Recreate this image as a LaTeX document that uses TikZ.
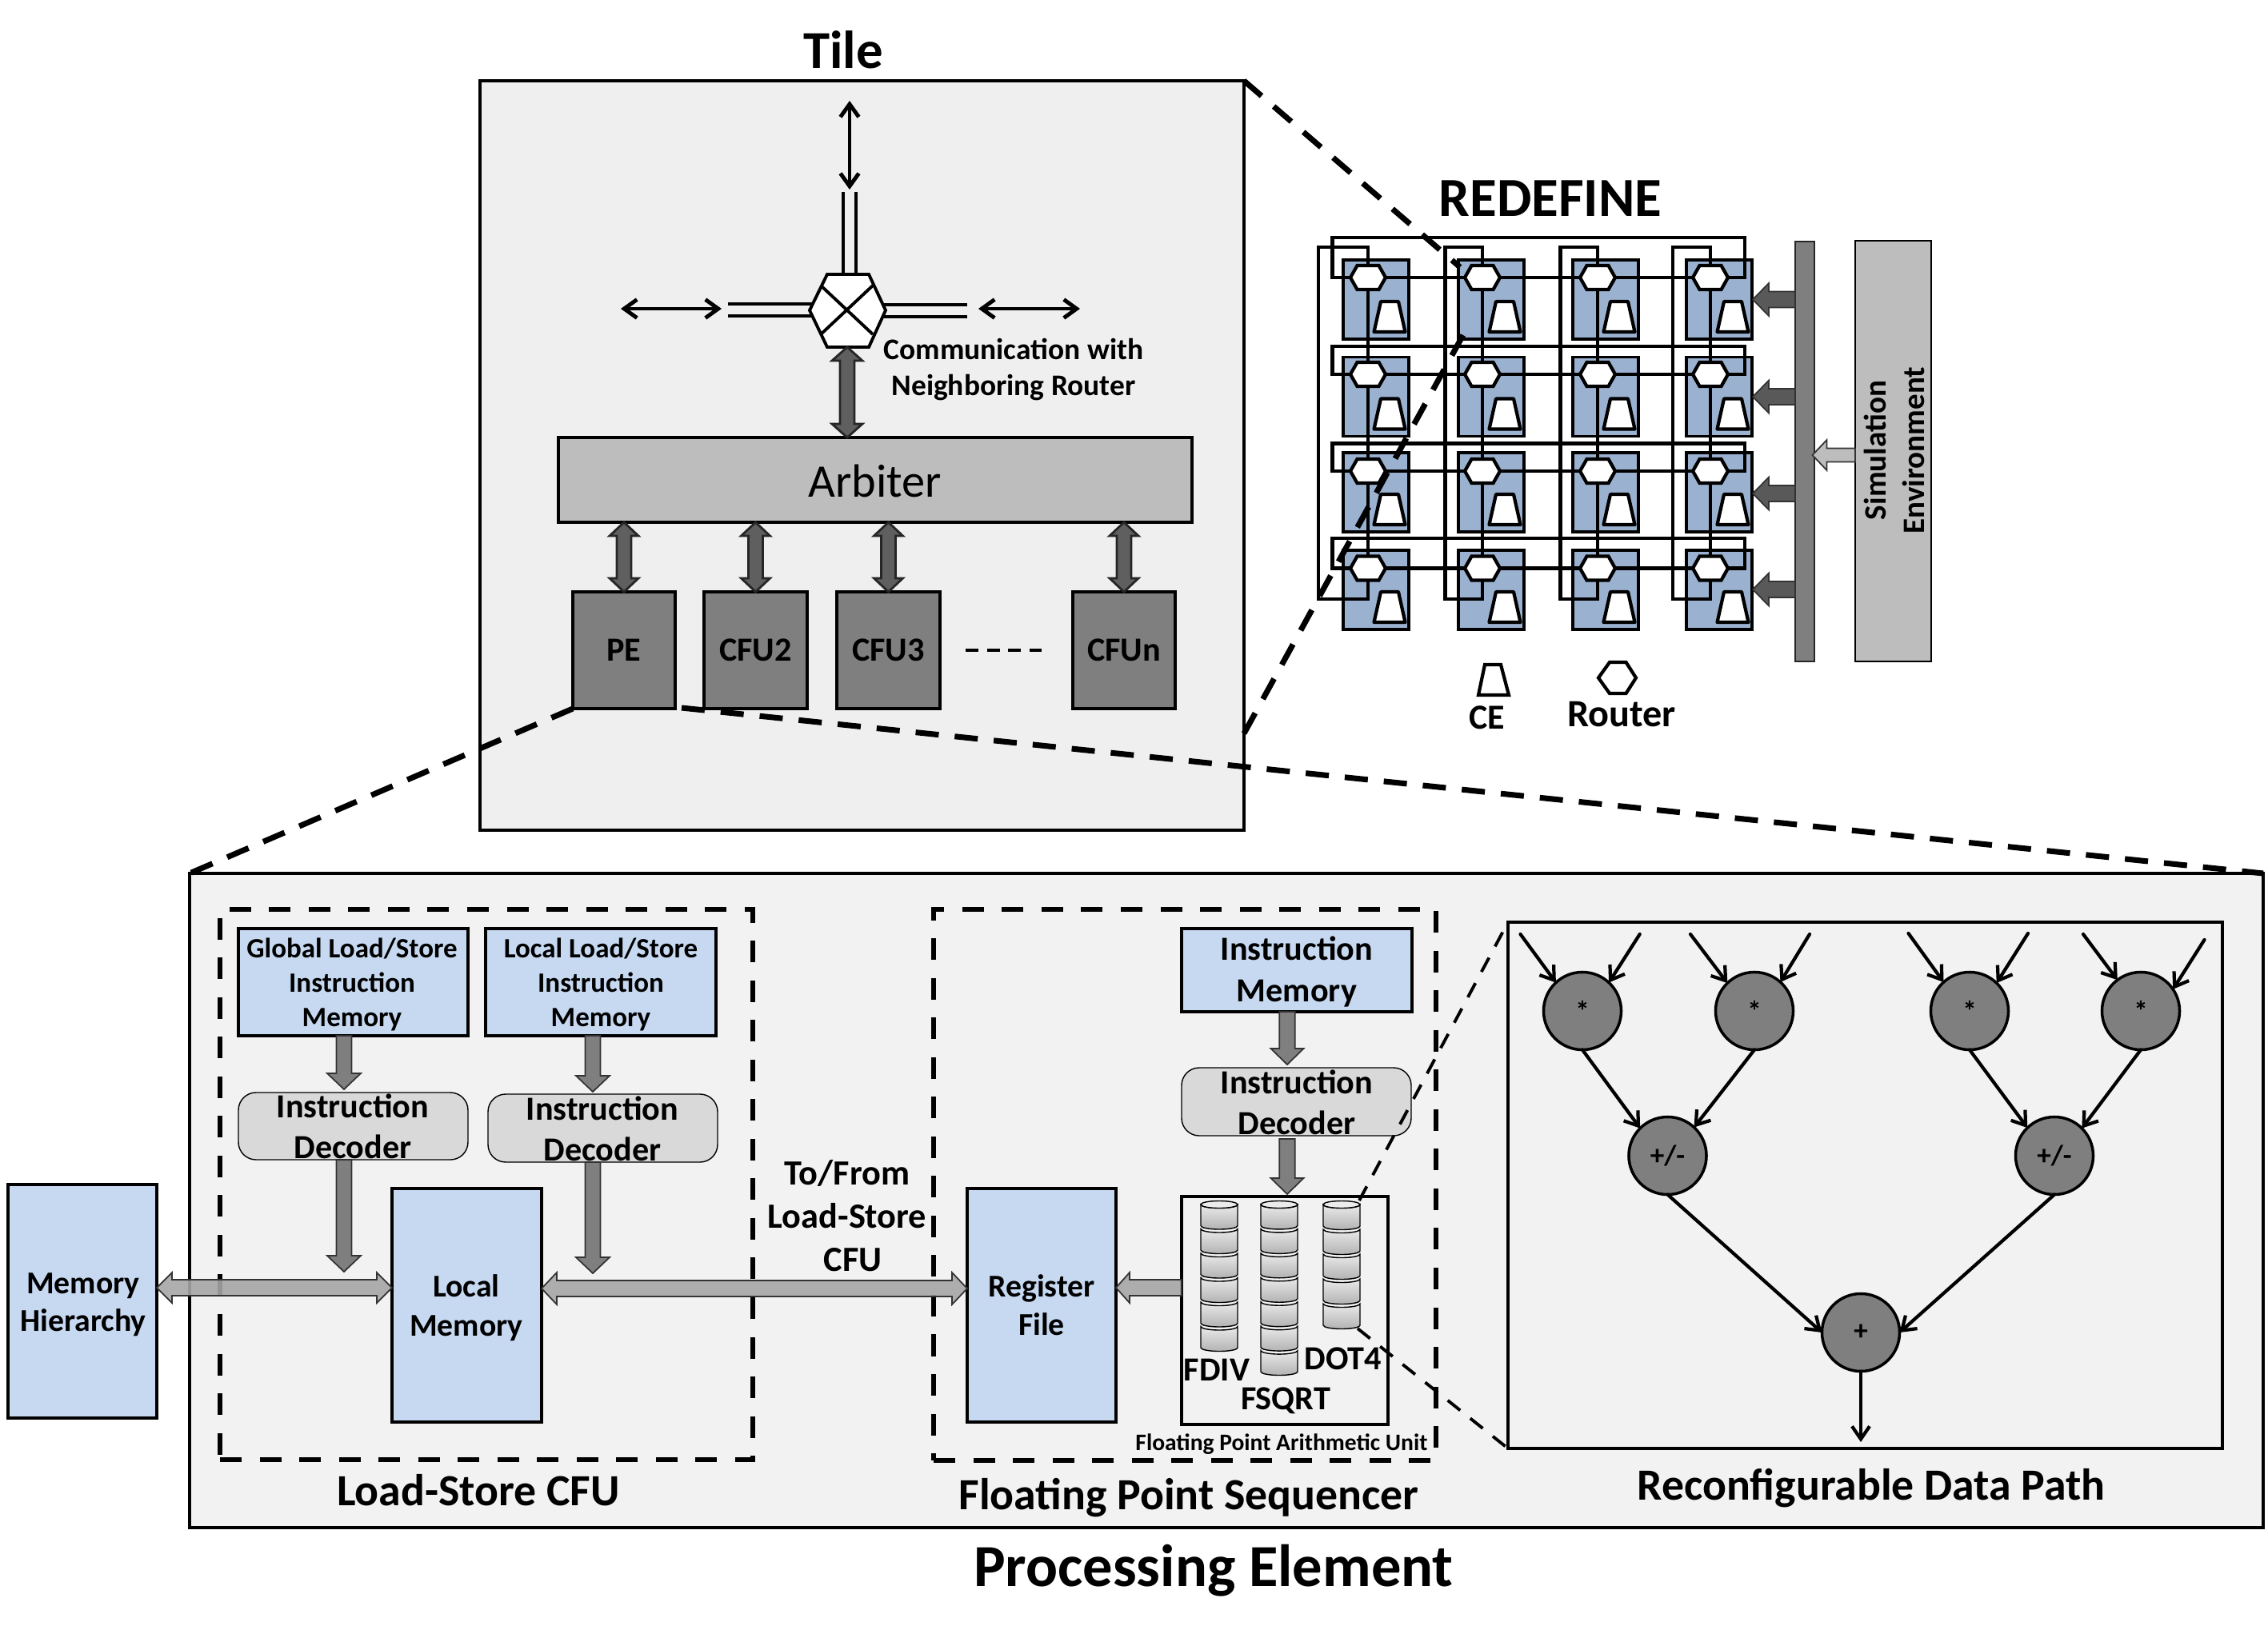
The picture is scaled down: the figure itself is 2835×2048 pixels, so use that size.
\documentclass[tikz,border=0pt]{standalone}
\usepackage{fontspec}
\setmainfont{Carlito}
\usetikzlibrary{calc,fit,arrows.meta}

\definecolor{tilebg}{HTML}{EFEFEF}
\definecolor{pebg}{HTML}{F2F2F2}
\definecolor{memblue}{HTML}{C6D9F1}
\definecolor{gridblue}{HTML}{9BB1D0}
\definecolor{arbgray}{HTML}{BDBDBD}
\definecolor{unitgray}{HTML}{7F7F7F}
\definecolor{decgray}{HTML}{D9D9D9}
\definecolor{busgray}{HTML}{A6A6A6}
\definecolor{linkgray}{HTML}{5F5F5F}

\tikzset{
  box/.style={inner sep=0pt,outer sep=0pt},
  frame/.style={box,draw=black,line width=1pt},
  bluebox/.style={frame,fill=memblue},
  decbox/.style={box,draw=black,line width=.4pt,fill=decgray,rounded corners=.22cm},
  unitbox/.style={frame,fill=unitgray},
  txt/.style={inner sep=0pt,outer sep=0pt,align=center,text=black},
  opnode/.style={circle,draw=black,line width=1pt,fill=unitgray,minimum size=.97cm,inner sep=0pt,outer sep=0pt},
  zoomline/.style={line width=2pt,dash pattern=on .29cm off .2cm},
  zoomthin/.style={line width=1.1pt,dash pattern=on .2cm off .16cm},
  regionbox/.style={line width=1.95pt,dash pattern=on .27cm off .225cm},
  wire/.style={line width=1.3pt},
  barb/.style={line width=1.2pt,line cap=round,-{Straight Barb[length=.16cm,width=.22cm,line width=1.2pt]}},
  barbs/.style={line width=1.4pt,line cap=round,{Straight Barb[length=.16cm,width=.23cm,line width=1.4pt]}-{Straight Barb[length=.16cm,width=.23cm,line width=1.4pt]}},
  linkarrow/.style={draw=black!85,line width=.8pt,fill=linkgray},
  feedarrow/.style={draw=black!80,line width=.5pt,fill=unitgray},
  busarrow/.style={draw=black!80,line width=.5pt,fill=busgray,fill opacity=.9},
}

% Block arrow with one head: style, tail, tip, half shaft, half head, head length
\newcommand{\onewayarrow}[6]{%
  \coordinate (bh) at ($(#3)!#6!(#2)$);
  \draw[#1] ($(#2)!#4!90:(#3)$) -- ($(bh)!#4!90:(#3)$) -- ($(bh)!#5!90:(#3)$) -- (#3)
    -- ($(bh)!#5!-90:(#3)$) -- ($(bh)!#4!-90:(#3)$) -- ($(#2)!#4!-90:(#3)$) -- cycle;}
% Block arrow with a head at both ends
\newcommand{\twowayarrow}[6]{%
  \coordinate (bh) at ($(#3)!#6!(#2)$);
  \coordinate (bt) at ($(#2)!#6!(#3)$);
  \draw[#1] (#2) -- ($(bt)!#5!90:(#3)$) -- ($(bt)!#4!90:(#3)$) -- ($(bh)!#4!90:(#3)$)
    -- ($(bh)!#5!90:(#3)$) -- (#3) -- ($(bh)!#5!-90:(#3)$) -- ($(bh)!#4!-90:(#3)$)
    -- ($(bt)!#4!-90:(#3)$) -- ($(bt)!#5!-90:(#3)$) -- cycle;}
% Stack of disks: left x, number of segments, top y, bottom y
\newcommand{\diskstack}[4]{%
  \pgfmathsetmacro{\segh}{(#4-#3-4)/#2}
  \begin{scope}
  \foreach \k in {#2,...,1}{%
    \pgfmathsetmacro{\ya}{#3+4+(\k-1)*\segh}
    \pgfmathsetmacro{\yb}{#3+4+\k*\segh-4}
    \draw[line width=.4pt,top color=white!92!black,bottom color=black!30]
      (#1,\ya) arc[start angle=180,end angle=360,x radius=.23cm,y radius=.045cm]
      -- ++(0,\segh-4) arc[start angle=0,end angle=-180,x radius=.23cm,y radius=.045cm] -- cycle;
  }
  \draw[line width=.4pt,fill=white!92!black] (#1+23,#3+4) ellipse[x radius=.23cm,y radius=.045cm];
  \end{scope}}

\newcommand{\sz}[2]{\fontsize{#1}{#2}\selectfont}

\begin{document}
\begin{tikzpicture}[x=.01cm,y=-.01cm]
\useasboundingbox (0,0) rectangle (2835,2048);

%--------------------------------------------------- mesh of tiles
\foreach \c/\xl in {1/1679,2/1823,3/1966,4/2108}{
  \foreach \r/\yt in {1/325,2/446.5,3/566,4/688}{
    \node[frame,fill=gridblue,fit={(\xl,\yt)(\xl+82,\yt+99)}] (cell\c\r) {};
  }
}
% compute elements inside the cells
\foreach \c/\xl in {1/1679,2/1823,3/1966,4/2108}{
  \foreach \r/\yt in {1/325,2/446.5,3/566,4/688}{
    \draw[line width=1.2pt,fill=white,line join=round]
      (\xl+38.5,\yt+90) -- (\xl+47,\yt+52) -- (\xl+69,\yt+52) -- (\xl+77.5,\yt+90) -- cycle;
  }
}
\foreach \c/\xr in {1/1710,2/1853,3/1997,4/2138}{
  \foreach \r/\yr in {1/347,2/468,3/589,4/710.5}{
    \coordinate (rt\c\r) at (\xr,\yr);
  }
}
% row wrap-around links
\foreach \r/\yw in {1/297,2/433,3/554.5,4/673}{
  \coordinate (wl\r) at (1665.5,\yw);
  \coordinate (wr\r) at (2181,\yw);
  \draw[wire] (rt1\r) -- (rt4\r);
  \draw[wire] (rt1\r) -| (wl\r) -- (wr\r) |- (rt4\r);
}
% column wrap-around links
\foreach \c/\xw in {1/1648,2/1806.5,3/1950.7,4/2091}{
  \coordinate (wt\c) at (\xw,309);
  \coordinate (wb\c) at (\xw,749);
  \draw[wire] (rt\c1) -- (rt\c4);
  \draw[wire] (rt\c1) |- (wt\c) -- (wb\c) -| (rt\c4);
}
% routers over the links
\foreach \c in {1,2,3,4}{
  \foreach \r in {1,2,3,4}{
    \draw[line width=1.2pt,fill=white]
      ($(rt\c\r)+(-22,0)$) -- ($(rt\c\r)+(-13.5,-15)$) -- ($(rt\c\r)+(13.5,-15)$)
      -- ($(rt\c\r)+(22,0)$) -- ($(rt\c\r)+(13.5,15)$) -- ($(rt\c\r)+(-13.5,15)$) -- cycle;
  }
}
% configuration bus and simulation environment
\node[box,draw=black!85,line width=.8pt,fill=unitgray,fit={(2244,302)(2268,827)}] (simbus) {};
\node[box,draw=black,line width=.5pt,fill=arbgray,fit={(2319,301)(2414,827)}] (simenv) {};
\foreach \n/\yy in {1/374.5,2/496,3/617,4/737}{
  \coordinate (bf\n) at (2244,\yy);
  \coordinate (bt\n) at (2191,\yy);
  \onewayarrow{draw=black!80,line width=.5pt,fill=black!65}{bf\n}{bt\n}{.1cm}{.205cm}{.2cm}
}
\coordinate (envout) at (2319,569);
\coordinate (envin) at (2265.5,569);
\onewayarrow{draw=black!80,line width=.5pt,fill=arbgray}{envout}{envin}{.085cm}{.19cm}{.18cm}
\node[txt,font=\sz{11.1}{13.6}\bfseries,rotate=90] (simtxt) at (2368,563) {Simulation\\Environment};
\node[txt,font=\sz{19.6}{23}\bfseries] (redefine) at (1938,248) {REDEFINE};
\draw[line width=1.2pt,fill=white] (1848,869) -- (1856,831) -- (1876,831) -- (1886,869) -- cycle;
\draw[line width=1.2pt,fill=white] (1998,847.5) -- (2012,828) -- (2032.5,828) -- (2045,847.5) -- (2032.5,867) -- (2012,867) -- cycle;
\node[txt,font=\sz{12.5}{15}\bfseries] (celabel) at (1859,897) {CE};
\node[txt,font=\sz{13.7}{16}\bfseries] (rtlabel) at (2027,893) {Router};

%--------------------------------------------------- tile
\node[frame,fill=tilebg,fit={(600,101)(1555,1038)}] (tile) {};
\node[txt,font=\sz{19}{23}\bfseries] (tiletitle) at (1054,62) {Tile};
\node[frame,fill=arbgray,fit={(698,547)(1490,653)}] (arb) {};
\node[txt,font=\sz{16.6}{20}] (arbtxt) at (1094,601) {Arbiter};
\node[unitbox,fit={(716,740)(844,886)}] (pe) {};
\node[unitbox,fit={(880,740)(1009,886)}] (cfub) {};
\node[unitbox,fit={(1046,740)(1175,886)}] (cfuc) {};
\node[unitbox,fit={(1341,740)(1469,886)}] (cfun) {};
\node[txt,font=\sz{12}{14}\bfseries] at (pe) (petxt) {PE};
\node[txt,font=\sz{12}{14}\bfseries] at (cfub) (cfubtxt) {CFU2};
\node[txt,font=\sz{12}{14}\bfseries] at (cfuc) (cfuctxt) {CFU3};
\node[txt,font=\sz{12}{14}\bfseries] at (cfun) (cfuntxt) {CFUn};
\coordinate (dots1) at (1207,813);
\coordinate (dots2) at (1302,813);
\draw[line width=1.2pt,dash pattern=on .16cm off .105cm] (dots1) -- (dots2);
\foreach \u in {pe,cfub,cfuc,cfun}{
  \coordinate (\u top) at (arb.south -| \u.north);
  \twowayarrow{linkarrow}{\u top}{\u.north}{.09cm}{.18cm}{.17cm}
}
% crossbar router of the tile
\coordinate (hub) at (1059,388);
\foreach \nm/\ax/\ay in {hubt/1059/343,hubb/1059/434,hubl/1012/388,hubr/1107/388}{
  \coordinate (\nm) at (\ax,\ay);
}
\coordinate (upa1) at (1054,240); \coordinate (upb1) at (1054,343);
\coordinate (upa2) at (1070,240); \coordinate (upb2) at (1070,343);
\coordinate (lfa1) at (910,380);  \coordinate (lfb1) at (1016,380);
\coordinate (lfa2) at (910,395);  \coordinate (lfb2) at (1016,395);
\coordinate (rga1) at (1209,381); \coordinate (rgb1) at (1104,381);
\coordinate (rga2) at (1209,396); \coordinate (rgb2) at (1104,396);
\foreach \s in {up,lf,rg}{
  \draw[line width=1.2pt] (\s a1) -- (\s b1);
  \draw[line width=1.2pt] (\s a2) -- (\s b2);
}
\draw[line width=1.1pt,fill=white] (1012,388) -- (1034,343) -- (1086,343) -- (1107,388) -- (1086,434) -- (1034,434) -- cycle;
\draw[line width=1.1pt] (1026,357) -- (1091,418) (1091,357) -- (1026,418);
\coordinate (nup) at (1062,126); \coordinate (ndn) at (1062,237);
\coordinate (wl) at (776,386);   \coordinate (wr) at (902,386);
\coordinate (el) at (1223,386);  \coordinate (er) at (1350,386);
\draw[barbs] (nup) -- (ndn);
\draw[barbs] (wl) -- (wr);
\draw[barbs] (el) -- (er);
\coordinate (arbhub) at (hubb |- arb.north);
\twowayarrow{linkarrow}{hubb}{arbhub}{.09cm}{.19cm}{.17cm}
\node[txt,font=\sz{10.65}{13}\bfseries] (commtxt) at (1267,462) {Communication with\\Neighboring Router};

%--------------------------------------------------- processing element
\node[frame,fill=pebg,fit={(237,1092)(2829,1910)}] (pebox) {};
\node[bluebox,fit={(10,1481)(196,1773)}] (memh) {};
\node[txt,font=\sz{11.3}{13.4}\bfseries] (memhtxt) at (104,1631) {Memory\\Hierarchy};
\node[bluebox,fit={(298,1161)(585,1295)}] (glim) {};
\node[txt,font=\sz{9.95}{12.1}\bfseries] (glimtxt) at (440,1231) {Global Load/Store\\Instruction\\Memory};
\node[bluebox,fit={(607,1161)(895,1295)}] (llim) {};
\node[txt,font=\sz{9.95}{12.1}\bfseries] (llimtxt) at (751,1231) {Local Load/Store\\Instruction\\Memory};
\node[decbox,fit={(298,1366)(585,1450)}] (dec1) {};
\node[txt,font=\sz{12}{14.4}\bfseries] (dec1txt) at (441,1408) {Instruction\\Decoder};
\node[decbox,fit={(610,1368)(897,1453)}] (dec2) {};
\node[txt,font=\sz{12}{14.4}\bfseries] (dec2txt) at (753,1411) {Instruction\\Decoder};
\node[bluebox,fit={(490,1486)(677,1778)}] (lmem) {};
\node[txt,font=\sz{11.3}{13.8}\bfseries] (lmemtxt) at (583,1635) {Local\\Memory};
\node[bluebox,fit={(1209,1486)(1395,1778)}] (regf) {};
\node[txt,font=\sz{11.3}{13.6}\bfseries] (regftxt) at (1302,1632) {Register\\File};
\node[bluebox,fit={(1477,1161)(1765,1265)}] (imem) {};
\node[txt,font=\sz{12}{14.6}\bfseries] (imemtxt) at (1621,1215) {Instruction\\Memory};
\node[decbox,fit={(1477,1335)(1764,1420)}] (dec3) {};
\node[txt,font=\sz{12}{14.4}\bfseries] (dec3txt) at (1621,1378) {Instruction\\Decoder};
\node[frame,fit={(1477,1496)(1735,1781)}] (fpu) {};
% functional unit stacks
\diskstack{1501}{6}{1502}{1689}
\diskstack{1576}{7}{1502}{1719}
\diskstack{1654}{5}{1502}{1661}
\node[txt,font=\sz{12}{14}\bfseries] (fdiv) at (1521,1713) {FDIV};
\node[txt,font=\sz{12}{14}\bfseries] (fsqrt) at (1607,1751) {FSQRT};
\node[txt,font=\sz{12}{14}\bfseries] (dot4) at (1679,1699) {DOT4};
\node[txt,font=\sz{8.4}{10}\bfseries] (fpucap) at (1602,1806) {Floating Point Arithmetic Unit};

% decoder and memory arrows
\coordinate (gi) at (430,1295); \coordinate (go) at (430,1362);
\coordinate (li) at (741,1295); \coordinate (lo) at (741,1365);
\coordinate (gd) at (430,1450); \coordinate (ge) at (430,1590);
\coordinate (ld) at (741,1453); \coordinate (le) at (741,1592);
\coordinate (fi) at (1609,1265); \coordinate (fo) at (1609,1331);
\coordinate (fd) at (1609,1424); \coordinate (fe) at (1609,1493);
\onewayarrow{feedarrow}{gi}{go}{.095cm}{.21cm}{.2cm}
\onewayarrow{feedarrow}{li}{lo}{.095cm}{.21cm}{.2cm}
\onewayarrow{feedarrow}{gd}{ge}{.095cm}{.21cm}{.2cm}
\onewayarrow{feedarrow}{ld}{le}{.095cm}{.21cm}{.2cm}
\onewayarrow{feedarrow}{fi}{fo}{.097cm}{.205cm}{.2cm}
\onewayarrow{feedarrow}{fd}{fe}{.097cm}{.205cm}{.2cm}

% region frames
\node[box,draw=black,regionbox,fit={(275,1137)(941,1825)}] (lsregion) {};
\node[box,draw=black,regionbox,fit={(1167,1137)(1795,1826)}] (fpregion) {};
\node[txt,font=\sz{15.85}{18}\bfseries] (lscap) at (598,1863) {Load-Store CFU};
\node[txt,font=\sz{15.85}{18}\bfseries] (fpcap) at (1486,1873) {Floating Point Sequencer};

% data buses
\coordinate (memhbus) at (memh.east |- 0,1610);
\coordinate (lmemlbus) at (lmem.west |- 0,1610);
\coordinate (lmemrbus) at (lmem.east |- 0,1611);
\coordinate (regfbus) at (regf.west |- 0,1611);
\coordinate (regfrbus) at (regf.east |- 0,1610);
\coordinate (fpubus) at (fpu.west |- 0,1610);
\twowayarrow{busarrow}{memhbus}{lmemlbus}{.1cm}{.19cm}{.19cm}
\twowayarrow{busarrow}{lmemrbus}{regfbus}{.1cm}{.2cm}{.19cm}
\onewayarrow{busarrow}{fpubus}{regfrbus}{.1cm}{.19cm}{.17cm}
\node[txt,font=\sz{12.6}{15.4}\bfseries] (tofrom) at (1059,1520) {To/From\\Load-Store\\\hspace*{4pt}CFU};

% reconfigurable data path
\node[frame,fit={(1885,1153)(2778,1811)}] (rdp) {};
\node[opnode] (m1) at (1978,1264) {};
\node[opnode] (m2) at (2193,1264) {};
\node[opnode] (m3) at (2462,1264) {};
\node[opnode] (m4) at (2676,1264) {};
\node[opnode] (a1) at (2084.5,1445) {};
\node[opnode] (a2) at (2568,1445) {};
\node[opnode] (p1) at (2326,1666) {};
\foreach \o in {m1,m2,m3,m4}{
  \node[txt,font=\sz{10}{12}\bfseries] (\o txt) at (\o) {*};
}
\node[txt,font=\sz{10}{12}\bfseries] (a1txt) at (a1) {+/-};
\node[txt,font=\sz{10}{12}\bfseries] (a2txt) at (a2) {+/-};
\node[txt,font=\sz{10}{12}\bfseries] (p1txt) at (p1) {+};
\coordinate (i1) at (1900.5,1168); \coordinate (i2) at (2049.7,1168);
\coordinate (i3) at (2113,1168);   \coordinate (i4) at (2262,1168);
\coordinate (i5) at (2385.5,1167); \coordinate (i6) at (2535,1167);
\coordinate (i7) at (2604,1168);   \coordinate (i8) at (2755.5,1175);
\coordinate (res) at (2326,1803);
\draw[barb] (i1) -- (m1.133);
\draw[barb] (i2) -- (m1.47);
\draw[barb] (i3) -- (m2.134);
\draw[barb] (i4) -- (m2.48);
\draw[barb] (i5) -- (m3.132);
\draw[barb] (i6) -- (m3.46);
\draw[barb] (i7) -- (m4.127);
\draw[barb] (i8) -- (m4.34);
\draw[barb] (m1.south) -- (a1.135);
\draw[barb] (m2.south) -- (a1.47);
\draw[barb] (m3.south) -- (a2.134);
\draw[barb] (m4.south) -- (a2.45);
\draw[barb] (a1.south) -- (p1.180);
\draw[barb] (a2.south) -- (p1.0);
\draw[barb] (p1.south) -- (res);
\node[txt,font=\sz{15.85}{18}\bfseries] (rdpcap) at (2339,1861) {Reconfigurable Data Path};
\node[txt,font=\sz{21.2}{25}\bfseries] (petitle) at (1517,1964) {Processing Element};

%--------------------------------------------------- zoom guides
\coordinate (gridtl) at (1825,334);
\coordinate (gridbl) at (1831,415);
\coordinate (tileside) at (1555,917);
\coordinate (pebr) at (852,885);
\draw[black,zoomline] (tile.north east) -- (gridtl);
\draw[black,zoomline] (tileside) -- (gridbl);
\draw[black,zoomline] (pe.south west) -- (pebox.north west);
\draw[black,zoomline] (pebr) -- (pebox.north east);
\coordinate (dottop) at (1699,1501);
\coordinate (dotbot) at (1697,1661);
\draw[black,zoomthin] (dottop) -- (rdp.north west);
\draw[black,zoomthin] (dotbot) -- (rdp.south west);
\end{tikzpicture}
\end{document}
